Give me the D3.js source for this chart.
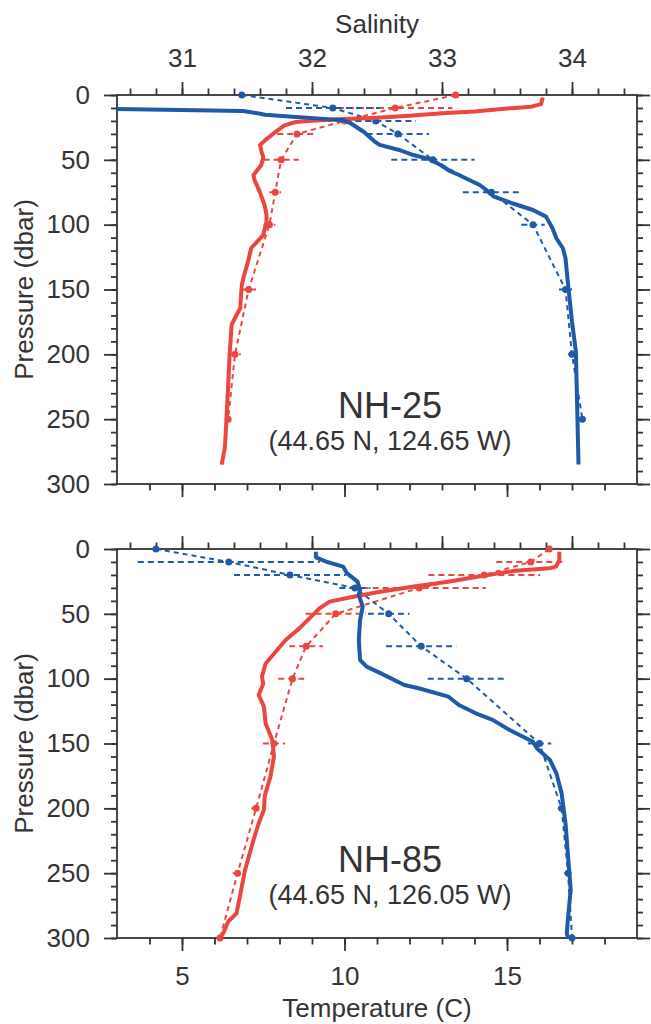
<!DOCTYPE html>
<html>
<head>
<meta charset="utf-8">
<script src="https://cdn.jsdelivr.net/npm/d3@7"></script>
<style>
  body { margin: 0; background: #fff; }
  svg text { font-family: "Liberation Sans", Arial, Helvetica, sans-serif; fill: #333; }
</style>
</head>
<body>
<div id="chart"></div>
<script>
// ---- data ----
// NH-25 CTD cast
const nh25TempP = [2, 7, 9, 10.5, 12.8, 14, 16, 17.5, 18.6, 19.8, 20.8, 23.4, 29, 34, 38.5, 44, 48, 54, 61.7, 65.5, 74.5, 84.8, 92.5, 97.7, 108, 118, 128.5, 140, 146.5, 164.5, 172, 177, 198, 224, 249, 272, 285];
const nh25TempT = [16.1, 16.05, 15.75, 15.0, 14.0, 13.0, 12.0, 11.0, 10.0, 9.0, 8.5, 8.15, 7.85, 7.6, 7.4, 7.45, 7.5, 7.44, 7.2, 7.23, 7.39, 7.54, 7.6, 7.6, 7.5, 7.13, 7.03, 6.9, 6.84, 6.79, 6.63, 6.53, 6.47, 6.42, 6.37, 6.32, 6.22];
const nh25SalP = [10.5, 12.3, 14.1, 15.2, 16.7, 18.8, 19.3, 22, 28.5, 35.7, 38.5, 42.4, 46.3, 49.3, 54, 58.6, 61.7, 69.4, 73.2, 78.4, 83.5, 88.7, 93.8, 102.8, 110.5, 118.2, 125.9, 146.5, 174.8, 197.9, 241.6, 285];
const nh25SalS = [30.3, 31.47, 31.58, 31.64, 31.85, 32.15, 32.24, 32.3, 32.4, 32.48, 32.52, 32.67, 32.78, 32.9, 32.99, 33.06, 33.13, 33.29, 33.34, 33.4, 33.54, 33.7, 33.8, 33.85, 33.88, 33.93, 33.95, 33.97, 34.0, 34.03, 34.04, 34.05];
// NH-25 climatology (mean and standard deviation)
const nh25ClimP = [0, 10, 20, 30, 50, 75, 100, 150, 200, 250];
const nh25ClimT = [13.42, 11.56, 10.0, 8.54, 8.05, 7.87, 7.69, 7.05, 6.63, 6.42];
const nh25ClimTsd = [0, 1.76, 0.9, 0.61, 0.54, 0.18, 0.18, 0.23, 0.18, 0.1];
const nh25ClimS = [31.46, 32.16, 32.49, 32.66, 32.93, 33.38, 33.7, 33.95, 34.0, 34.08];
const nh25ClimSsd = [0, 0.36, 0.31, 0.24, 0.32, 0.22, 0.09, 0.05, 0.03, 0.03];

// NH-85 CTD cast
const nh85TempP = [2.1, 8.5, 13.6, 14.9, 16.7, 20.8, 25.2, 29, 32.9, 36.8, 40.6, 45.8, 53.5, 61.2, 70.2, 79.2, 88.5, 98.5, 104, 112.6, 121.6, 134.4, 147.3, 160.1, 175.6, 190, 201.2, 211.5, 224.4, 247.5, 280.9, 287.4, 296.3, 300];
const nh85TempT = [16.61, 16.61, 16.51, 16.3, 15.26, 14.22, 13.18, 12.14, 11.1, 10.27, 9.54, 9.23, 8.92, 8.61, 8.19, 7.88, 7.57, 7.46, 7.5, 7.36, 7.52, 7.57, 7.78, 7.83, 7.72, 7.55, 7.52, 7.36, 7.2, 6.94, 6.68, 6.42, 6.27, 6.17];
const nh85SalP = [2.1, 6.4, 9.8, 13.6, 18.8, 25.2, 31.6, 35.5, 44.5, 54.7, 70.2, 85.6, 90.7, 95.9, 104.9, 107.4, 113.9, 120.3, 126.7, 131.8, 139.6, 148.6, 153.7, 162.7, 173, 188.4, 211.5, 237.2, 263, 283.5, 296.3, 300];
const nh85SalS = [32.03, 32.03, 32.11, 32.24, 32.27, 32.35, 32.37, 32.36, 32.39, 32.37, 32.36, 32.37, 32.42, 32.53, 32.71, 32.82, 33.05, 33.13, 33.26, 33.39, 33.52, 33.7, 33.73, 33.83, 33.88, 33.92, 33.95, 33.97, 33.99, 33.97, 33.96, 33.97];
// NH-85 climatology
const nh85ClimP = [0, 10, 20, 30, 50, 75, 100, 150, 200, 250, 300];
const nh85ClimT = [16.3, 15.73, 14.3, 12.3, 9.73, 8.82, 8.4, 7.83, 7.28, 6.71, 6.17];
const nh85ClimTsd = [0, 1.06, 1.72, 2.05, 0.93, 0.52, 0.44, 0.34, 0.15, 0.15, 0];
const nh85ClimS = [30.8, 31.36, 31.83, 32.33, 32.59, 32.84, 33.19, 33.75, 33.92, 33.97, 34.0];
const nh85ClimSsd = [0, 0.7, 0.43, 0.12, 0.16, 0.27, 0.3, 0.09, 0.03, 0.03, 0];

// axis ticks
const tempTicks = [5, 10, 15];
const salTicks = [31, 32, 33, 34];
const presTicks = [0, 50, 100, 150, 200, 250, 300];

// ---- layout ----
const width = 651, height = 1024;
const left = 117, plotW = 520, plotH = 389;
const panelTops = [95, 549];
const red = "#ec4640", blue = "#1f5aa8";

const svg = d3.select("#chart").append("svg")
  .attr("width", width).attr("height", height);

const x = d3.scaleLinear().domain([3, 19]).range([0, plotW]);      // temperature
const xs = d3.scaleLinear().domain([30.5, 34.5]).range([0, plotW]); // salinity
const y = d3.scaleLinear().domain([0, 300]).range([0, plotH]);

const zip = (a, b) => a.map((v, i) => [v, b[i]]);

const panels = [
  { name: "NH-25", loc: "(44.65 N, 124.65 W)",
    temp: zip(nh25TempP, nh25TempT), sal: zip(nh25SalP, nh25SalS),
    climP: nh25ClimP, climT: nh25ClimT, climTsd: nh25ClimTsd, climS: nh25ClimS, climSsd: nh25ClimSsd },
  { name: "NH-85", loc: "(44.65 N, 126.05 W)",
    temp: zip(nh85TempP, nh85TempT), sal: zip(nh85SalP, nh85SalS),
    climP: nh85ClimP, climT: nh85ClimT, climTsd: nh85ClimTsd, climS: nh85ClimS, climSsd: nh85ClimSsd }
];

function styleAxis(g) {
  g.selectAll("path.domain").remove();
  g.selectAll("line").attr("stroke", "#333").attr("stroke-width", 1.8);
  g.selectAll("text").attr("font-size", 26).attr("fill", "#333");
}

panels.forEach((pn, k) => {
  const top = panelTops[k];
  const g = svg.append("g").attr("transform", `translate(${left},${top})`);

  g.append("clipPath").attr("id", "clip" + k)
    .append("rect").attr("x", 0).attr("y", -6).attr("width", plotW).attr("height", plotH + 12);

  // minor ticks
  g.append("g").call(d3.axisTop(xs).tickValues(d3.range(30.6, 34.41, 0.2)).tickSize(6.5).tickFormat("")).call(styleAxis);
  g.append("g").attr("transform", `translate(0,${plotH})`)
    .call(d3.axisBottom(x).tickValues(d3.range(4, 19, 1)).tickSize(6.5).tickFormat("")).call(styleAxis);
  g.append("g").call(d3.axisLeft(y).tickValues(d3.range(0, 301, 10)).tickSize(6).tickFormat("")).call(styleAxis);
  g.append("g").attr("transform", `translate(${plotW},0)`)
    .call(d3.axisRight(y).tickValues(d3.range(0, 301, 10)).tickSize(6).tickFormat("")).call(styleAxis);

  // major ticks
  g.append("g").call(d3.axisTop(xs).tickValues(salTicks).tickSize(13).tickPadding(15)
    .tickFormat(k === 0 ? d3.format("d") : "")).call(styleAxis);
  g.append("g").attr("transform", `translate(0,${plotH})`)
    .call(d3.axisBottom(x).tickValues(tempTicks).tickSize(13).tickPadding(16)
      .tickFormat(k === 1 ? d3.format("d") : "")).call(styleAxis);
  g.append("g").call(d3.axisLeft(y).tickValues(presTicks).tickSize(13).tickPadding(14)).call(styleAxis);
  g.append("g").attr("transform", `translate(${plotW},0)`)
    .call(d3.axisRight(y).tickValues(presTicks).tickSize(13).tickFormat("")).call(styleAxis);

  // frame
  g.append("rect").attr("width", plotW).attr("height", plotH)
    .attr("fill", "none").attr("stroke", "#333").attr("stroke-width", 1.8);

  const data = g.append("g").attr("clip-path", `url(#clip${k})`);

  // climatology: dashed mean profile, dashed std bars, dots
  const clim = [
    { sc: x, m: pn.climT, sd: pn.climTsd, col: red },
    { sc: xs, m: pn.climS, sd: pn.climSsd, col: blue }
  ];
  clim.forEach(c => {
    const pts = pn.climP.map((p, i) => ({ p, v: c.m[i], sd: c.sd[i] }));
    data.append("path").datum(pts)
      .attr("d", d3.line().x(d => c.sc(d.v)).y(d => y(d.p)))
      .attr("fill", "none").attr("stroke", c.col).attr("stroke-width", 2)
      .attr("stroke-dasharray", "5,4");
    data.selectAll(null).data(pts.filter(d => d.sd > 0)).join("line")
      .attr("x1", d => c.sc(d.v - d.sd)).attr("x2", d => c.sc(d.v + d.sd))
      .attr("y1", d => y(d.p)).attr("y2", d => y(d.p))
      .attr("stroke", c.col).attr("stroke-width", 2).attr("stroke-dasharray", "6,4");
    data.selectAll(null).data(pts).join("circle")
      .attr("cx", d => c.sc(d.v)).attr("cy", d => y(d.p)).attr("r", 3.5)
      .attr("fill", c.col);
  });

  // CTD profiles
  data.append("path").datum(pn.temp)
    .attr("d", d3.line().x(d => x(d[1])).y(d => y(d[0])))
    .attr("fill", "none").attr("stroke", red).attr("stroke-width", 4)
    .attr("stroke-linejoin", "round");
  data.append("path").datum(pn.sal)
    .attr("d", d3.line().x(d => xs(d[1])).y(d => y(d[0])))
    .attr("fill", "none").attr("stroke", blue).attr("stroke-width", 4)
    .attr("stroke-linejoin", "round");

  // station labels
  g.append("text").attr("x", 273).attr("y", 323).attr("text-anchor", "middle")
    .attr("font-size", 36).text(pn.name);
  g.append("text").attr("x", 273).attr("y", 355).attr("text-anchor", "middle")
    .attr("font-size", 27).text(pn.loc);

  // y label
  g.append("text").attr("transform", `translate(${33 - left},${plotH / 2}) rotate(-90)`)
    .attr("text-anchor", "middle").attr("font-size", 26).text("Pressure (dbar)");
});

svg.append("text").attr("x", left + plotW / 2).attr("y", 33)
  .attr("text-anchor", "middle").attr("font-size", 26).text("Salinity");
svg.append("text").attr("x", left + plotW / 2).attr("y", 1017)
  .attr("text-anchor", "middle").attr("font-size", 26).text("Temperature (C)");
</script>
</body>
</html>
